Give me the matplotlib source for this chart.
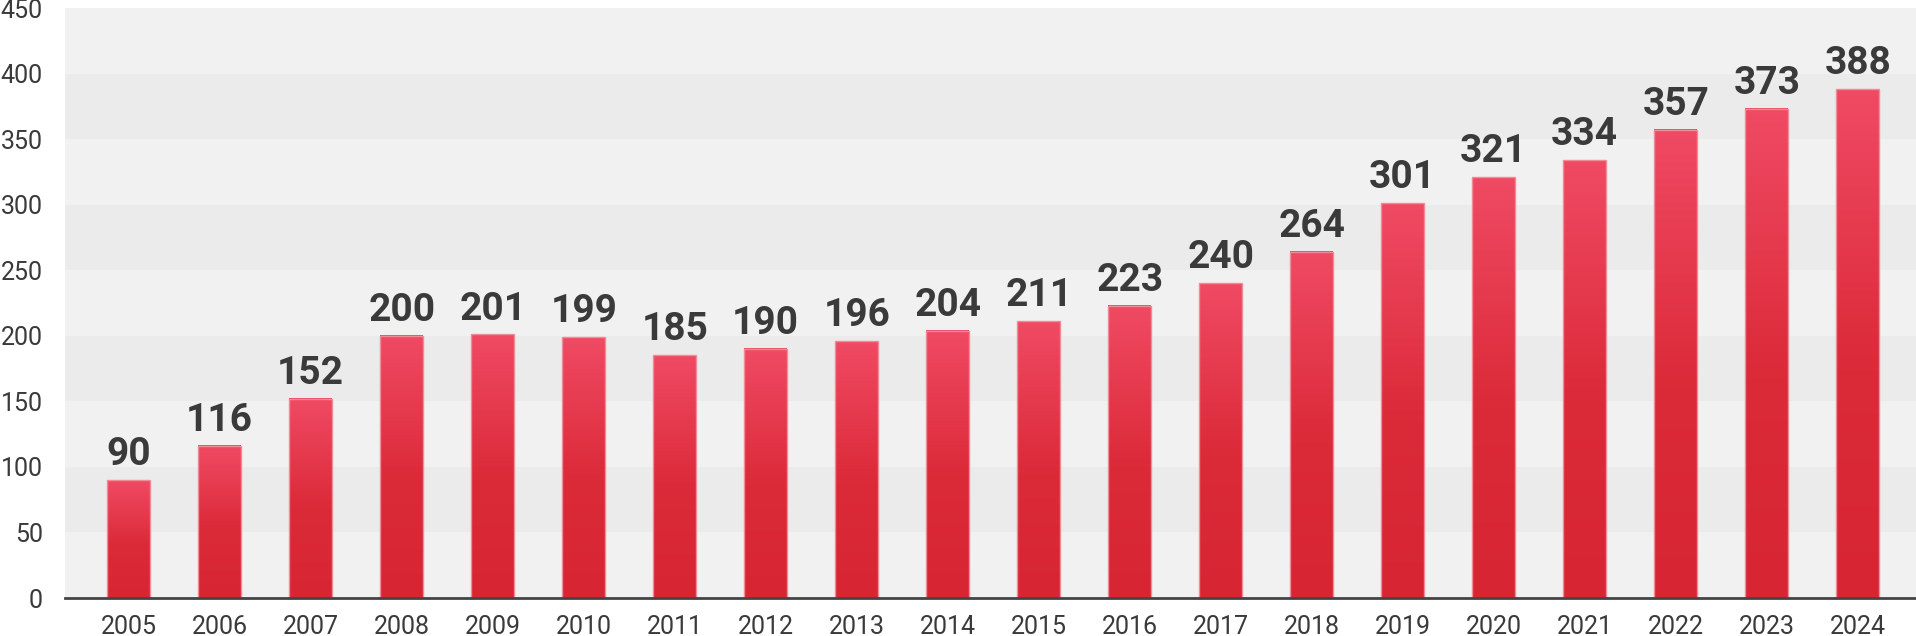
import matplotlib
matplotlib.use("Agg")
import matplotlib.pyplot as plt
import numpy as np
from matplotlib.colors import LinearSegmentedColormap

years = ["2005", "2006", "2007", "2008", "2009", "2010", "2011", "2012", "2013", "2014",
         "2015", "2016", "2017", "2018", "2019", "2020", "2021", "2022", "2023", "2024"]
values = [90, 116, 152, 200, 201, 199, 185, 190, 196, 204,
          211, 223, 240, 264, 301, 321, 334, 357, 373, 388]
y_ticks = [0, 50, 100, 150, 200, 250, 300, 350, 400, 450]

fig = plt.figure(figsize=(19.16, 6.36), dpi=100)
ax = fig.add_axes([65/1916, 1 - 598/636, 1 - 65/1916, (598 - 8)/636])

# alternating background bands
for i in range(len(y_ticks) - 1):
    col = "#f1f1f1" if i % 2 == 0 else "#ebebeb"
    ax.axhspan(y_ticks[i], y_ticks[i + 1], color=col, lw=0, zorder=0)

cmap = LinearSegmentedColormap.from_list(
    "redgrad", [(0.0, "#d72533"), (0.45, "#db2a38"), (1.0, "#f04a64")])
grad = np.linspace(0, 1, 256).reshape(-1, 1)

x = np.arange(len(years))
w = 0.47
bars = ax.bar(x, values, width=w, facecolor="none", edgecolor="#f08b98",
              linewidth=1.0, zorder=3)
for xi, v in zip(x, values):
    ax.imshow(grad, cmap=cmap, origin="lower", aspect="auto",
              extent=[xi - w/2, xi + w/2, 0, v], zorder=2, interpolation="bilinear")
    ax.annotate(str(v), (xi, v), xytext=(0, 5), textcoords="offset points",
                ha="center", va="bottom", fontsize=28, fontweight="bold",
                color="#3a3a3a", family=["Liberation Sans Narrow", "Roboto"], zorder=4)

ax.set_xlim(-0.70, 19.64)
ax.set_ylim(0, 450)
ax.set_yticks(y_ticks)
ax.set_yticklabels([str(t) for t in y_ticks])
ax.set_xticks(x)
ax.set_xticklabels(years)
for lab in ax.get_xticklabels() + ax.get_yticklabels():
    lab.set_family(["Roboto", "DejaVu Sans"])
    lab.set_fontsize(18)
    lab.set_color("#3a3a3a")
ax.tick_params(axis="y", length=0, pad=16)
ax.tick_params(axis="x", length=0, pad=12)

for s in ["top", "right", "left"]:
    ax.spines[s].set_visible(False)
ax.spines["bottom"].set_color("#444444")
ax.spines["bottom"].set_linewidth(2)
ax.spines["bottom"].set_zorder(5)

fig.savefig("out.png", dpi=100, facecolor="white")
